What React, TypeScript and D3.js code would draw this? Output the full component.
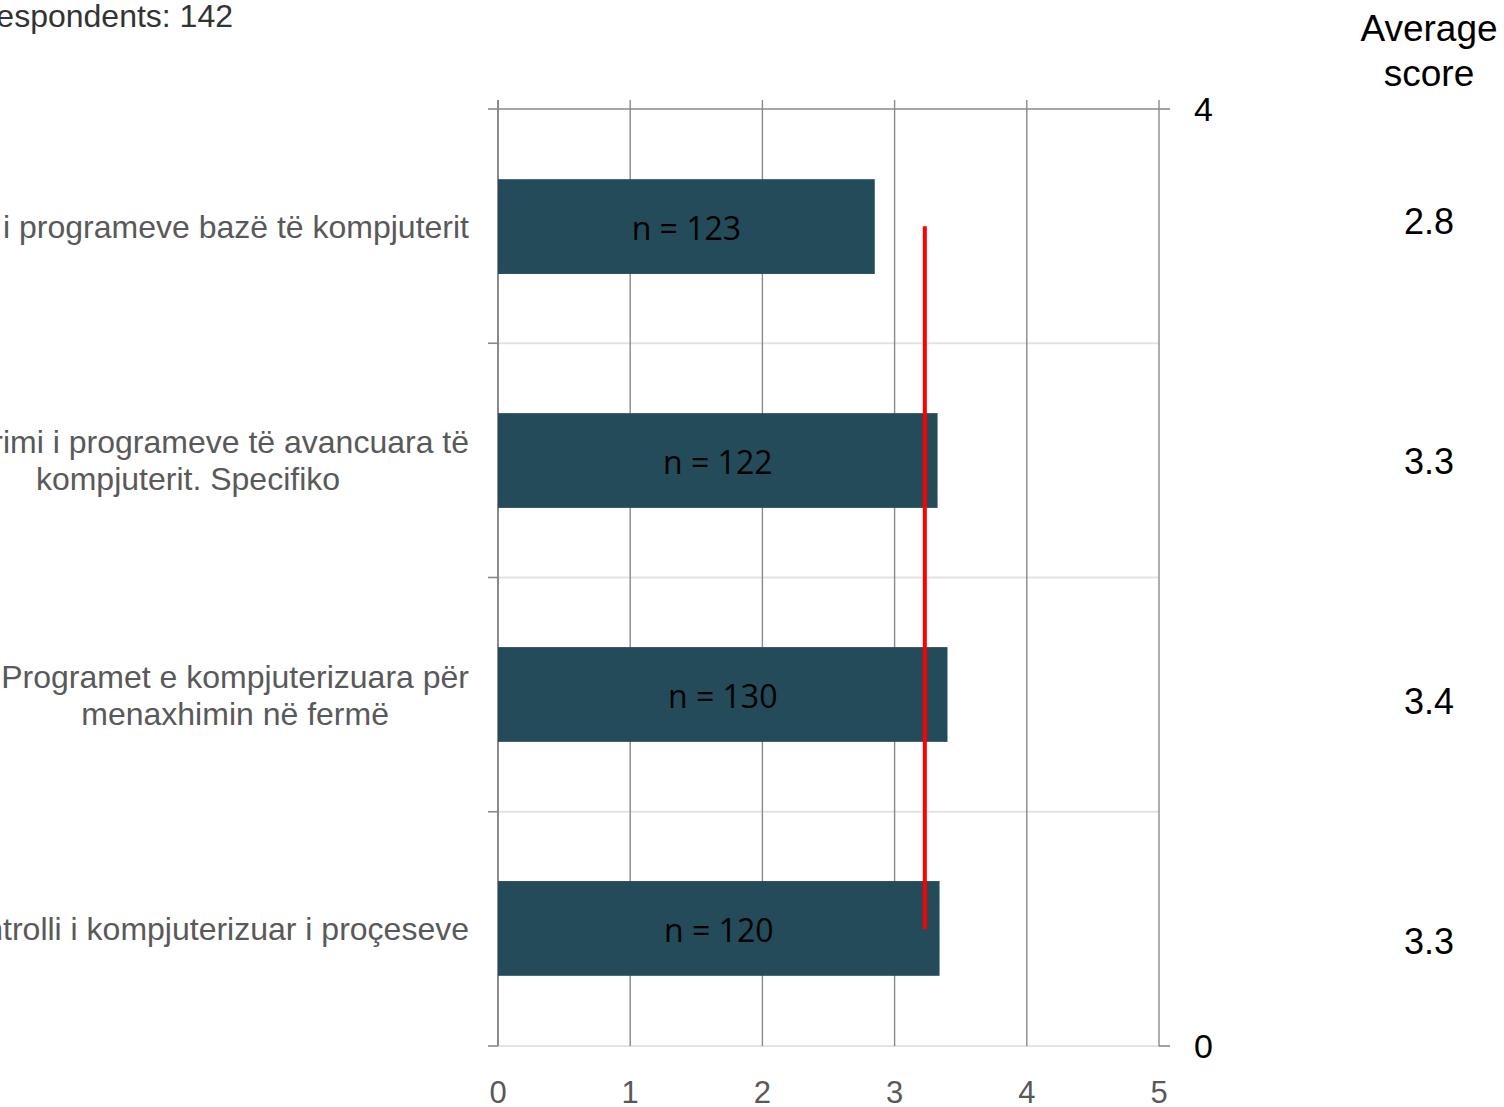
import React, { useEffect, useRef } from "react";
import * as d3 from "d3";

const categories: string[][] = [
  ["Përdorimi i programeve bazë të kompjuterit"],
  ["Përdorimi i programeve të avancuara të", "kompjuterit. Specifiko"],
  ["Programet e kompjuterizuara për", "menaxhimin në fermë"],
  ["Kontrolli i kompjuterizuar i proçeseve"],
];
const scores: number[] = [2.85, 3.325, 3.4, 3.34];
const counts: number[] = [123, 122, 130, 120];
const avgLabels: string[] = ["2.8", "3.3", "3.4", "3.3"];
const xTicks: number[] = [0, 1, 2, 3, 4, 5];
const y2Ticks: number[] = [0, 4];
const lineY2: number[] = [3.5, 0.5];
const title = "Number of respondents: 142";

const W = 1504;
const H = 1107;
const L = 498;
const R = 1159;
const T = 109;
const B = 1046;

export default function App() {
  const ref = useRef<SVGSVGElement>(null);

  useEffect(() => {
    const svg = d3.select(ref.current!);
    svg.selectAll("*").remove();

    const x = d3.scaleLinear().domain([0, 5]).range([L, R]);
    const y = d3
      .scaleBand<number>()
      .domain(d3.range(categories.length))
      .range([T, B])
      .paddingInner(0.595)
      .paddingOuter(0.3);
    const yb = d3.scaleBand<number>().domain(d3.range(categories.length)).range([T, B]);
    const y2 = d3.scaleLinear().domain([0, 4]).range([B, T]);
    const yAvg = d3.scaleBand<number>().domain(d3.range(avgLabels.length)).range([101, 1061]);

    const dark = "#8a8a8a";
    const light = "#e3e3e3";

    // horizontal gridlines (category boundaries)
    const bounds = d3.range(categories.length + 1).map((i) => T + i * yb.step());
    bounds.forEach((by, i) => {
      const isTop = i === 0;
      svg
        .append("line")
        .attr("x1", L)
        .attr("x2", R)
        .attr("y1", by)
        .attr("y2", by)
        .attr("stroke", isTop ? dark : light)
        .attr("stroke-width", isTop ? 1.6 : 2);
      svg
        .append("line")
        .attr("x1", L - 10)
        .attr("x2", L)
        .attr("y1", by)
        .attr("y2", by)
        .attr("stroke", dark)
        .attr("stroke-width", 1.6);
    });

    // vertical gridlines
    xTicks.forEach((t) => {
      svg
        .append("line")
        .attr("x1", x(t))
        .attr("x2", x(t))
        .attr("y1", T - 9)
        .attr("y2", B)
        .attr("stroke", dark)
        .attr("stroke-width", t === 0 ? 2 : 1.4);
      svg
        .append("text")
        .attr("x", x(t))
        .attr("y", 1092)
        .attr("dy", "0.36em")
        .attr("text-anchor", "middle")
        .attr("font-family", "Liberation Sans, Arial, sans-serif")
        .attr("font-size", 31)
        .attr("fill", "#595959")
        .text(String(t));
    });

    // secondary axis ticks + labels
    y2Ticks.forEach((t) => {
      svg
        .append("line")
        .attr("x1", R)
        .attr("x2", R + 11)
        .attr("y1", y2(t))
        .attr("y2", y2(t))
        .attr("stroke", dark)
        .attr("stroke-width", 1.6);
      svg
        .append("text")
        .attr("x", 1194)
        .attr("y", y2(t))
        .attr("dy", "0.36em")
        .attr("font-family", "Liberation Sans, Arial, sans-serif")
        .attr("font-size", 34)
        .attr("fill", "#000")
        .text(String(t));
    });

    // bars
    scores.forEach((v, i) => {
      svg
        .append("rect")
        .attr("x", x(0))
        .attr("y", y(i)!)
        .attr("width", x(v) - x(0))
        .attr("height", y.bandwidth())
        .attr("fill", "#244b5a");
      svg
        .append("text")
        .attr("x", (x(0) + x(v)) / 2)
        .attr("y", y(i)! + y.bandwidth() / 2 + 2)
        .attr("dy", "0.36em")
        .attr("text-anchor", "middle")
        .attr("font-family", "Open Sans, sans-serif")
        .attr("font-size", 32)
        .attr("fill", "#000")
        .text(`n = ${counts[i]}`);
    });

    // average line
    const avg = d3.mean(scores)!;
    svg
      .append("line")
      .attr("x1", x(avg))
      .attr("x2", x(avg))
      .attr("y1", y2(lineY2[0]))
      .attr("y2", y2(lineY2[1]))
      .attr("stroke", "#ff0000")
      .attr("stroke-width", 4);

    // category labels
    categories.forEach((lines, i) => {
      const cy = yb(i)! + yb.bandwidth() / 2;
      const lh = 37;
      const g = svg.append("g");
      const texts = lines.map((ln, j) =>
        g
          .append("text")
          .attr("y", cy + (j - (lines.length - 1) / 2) * lh)
          .attr("dy", "0.36em")
          .attr("text-anchor", "middle")
          .attr("font-family", "Liberation Sans, Arial, sans-serif")
          .attr("font-size", 32)
          .attr("fill", "#595959")
          .text(ln)
      );
      const maxW = d3.max(texts, (t) => (t.node() as SVGTextElement).getComputedTextLength())!;
      texts.forEach((t) => t.attr("x", 469 - maxW / 2));
    });

    // title
    svg
      .append("text")
      .attr("x", 233)
      .attr("y", 27)
      .attr("text-anchor", "end")
      .attr("font-family", "Liberation Sans, Arial, sans-serif")
      .attr("font-size", 32)
      .attr("fill", "#333333")
      .text(title);

    // Average score header
    ["Average", "score"].forEach((t, j) => {
      svg
        .append("text")
        .attr("x", 1429)
        .attr("y", 28 + j * 45)
        .attr("dy", "0.36em")
        .attr("text-anchor", "middle")
        .attr("font-family", "Liberation Sans, Arial, sans-serif")
        .attr("font-size", 37)
        .attr("fill", "#000")
        .text(t);
    });
    avgLabels.forEach((t, i) => {
      svg
        .append("text")
        .attr("x", 1429)
        .attr("y", yAvg(i)! + yAvg.bandwidth() / 2)
        .attr("dy", "0.36em")
        .attr("text-anchor", "middle")
        .attr("font-family", "Liberation Sans, Arial, sans-serif")
        .attr("font-size", 36)
        .attr("fill", "#000")
        .text(t);
    });
  }, []);

  return (
    <svg
      ref={ref}
      width={W}
      height={H}
      style={{ position: "absolute", left: 0, top: 0, background: "#fff" }}
    />
  );
}
